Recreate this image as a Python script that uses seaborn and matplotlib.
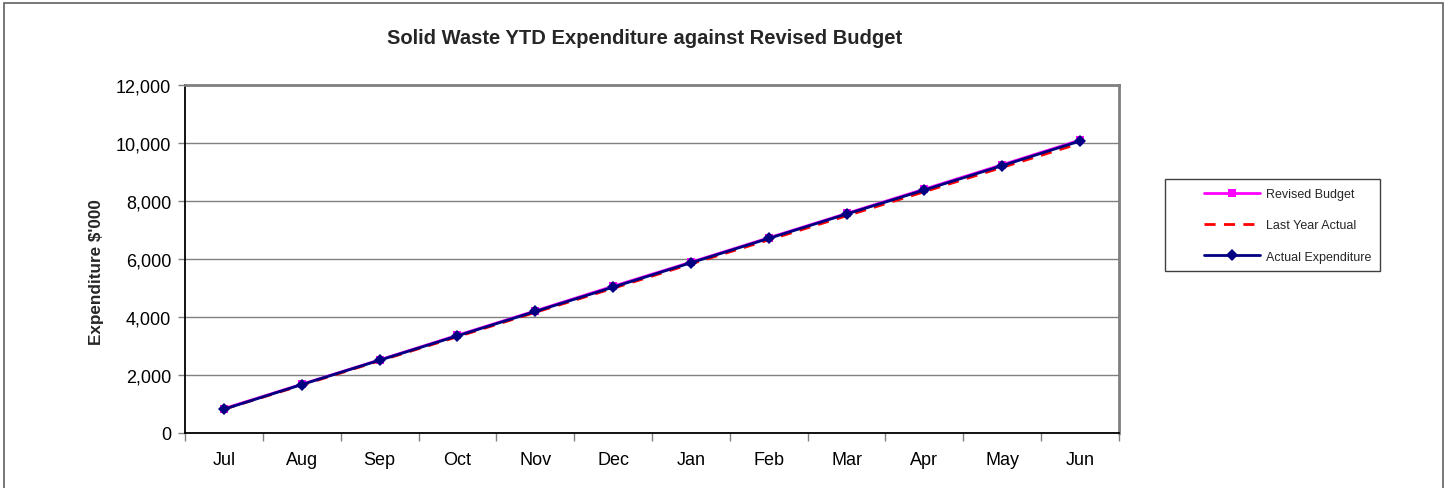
import matplotlib
matplotlib.use("Agg")
import matplotlib.pyplot as plt
from matplotlib.patches import Rectangle
from matplotlib.ticker import FuncFormatter, MultipleLocator, FixedLocator
import seaborn as sns
import pandas as pd
import numpy as np

months = ["Jul", "Aug", "Sep", "Oct", "Nov", "Dec", "Jan", "Feb", "Mar", "Apr", "May", "Jun"]
revised_budget = [840, 1680, 2520, 3370, 4210, 5060, 5890, 6730, 7570, 8410, 9250, 10100]
last_year_actual = [820, 1650, 2490, 3320, 4160, 4990, 5830, 6660, 7490, 8320, 9160, 9990]
actual_expenditure = [820, 1670, 2510, 3350, 4190, 5030, 5870, 6710, 7550, 8380, 9220, 10070]

sns.set_theme(style="white")
plt.rcParams["font.family"] = ["Liberation Sans", "DejaVu Sans"]

W, H = 1451, 489
fig = plt.figure(figsize=(W / 100, H / 100), dpi=100)
ax = fig.add_axes([185 / W, (H - 434) / H, (1119 - 185) / W, (434 - 86) / H])

df = pd.DataFrame({"month": months,
                   "Revised Budget": revised_budget,
                   "Last Year Actual": last_year_actual,
                   "Actual Expenditure": actual_expenditure})

sns.lineplot(data=df, x="month", y="Revised Budget", ax=ax, color="#FF00FF",
             linewidth=2, marker="s", markersize=6, markeredgewidth=0,
             label="Revised Budget", sort=False, zorder=3)
sns.lineplot(data=df, x="month", y="Last Year Actual", ax=ax, color="#FF0000",
             linewidth=2, dashes=(4, 3), label="Last Year Actual", sort=False, zorder=4)
sns.lineplot(data=df, x="month", y="Actual Expenditure", ax=ax, color="#000080",
             linewidth=2, marker="D", markersize=6, markeredgewidth=0,
             label="Actual Expenditure", sort=False, zorder=5)

ax.set_xlim(-0.5, len(months) - 0.5)
ax.set_ylim(0, 12000)
ax.yaxis.set_major_locator(MultipleLocator(2000))
ax.yaxis.set_major_formatter(FuncFormatter(lambda v, p: f"{int(v):,}"))
ax.grid(axis="y", color="#808080", linewidth=1)
ax.grid(axis="x", visible=False)
ax.set_axisbelow(True)

# category labels centred, tick marks on the category boundaries
ax.set_xticks(range(len(months)))
ax.set_xticklabels(months)
ax.xaxis.set_minor_locator(FixedLocator(np.arange(-0.5, len(months), 1.0)))
ax.tick_params(axis="x", which="major", length=0, pad=13, labelsize=13, colors="black")
ax.tick_params(axis="x", which="minor", length=6, width=1, color="#808080", direction="out", bottom=True)
ax.tick_params(axis="y", which="major", length=5, width=1, color="#808080", direction="out",
               left=True, pad=5, labelsize=13, labelcolor="black")

ax.set_xlabel("")
ax.set_ylabel("Expenditure $'000", fontsize=12.3, fontweight="bold")
ax.yaxis.set_label_coords((104 - 185) / 934, (434 - 272) / 348)

for side in ["left", "bottom"]:
    ax.spines[side].set_color("black")
    ax.spines[side].set_linewidth(1.3)
for side in ["top", "right"]:
    ax.spines[side].set_color("#808080")
    ax.spines[side].set_linewidth(2)

fig.text(644.5 / W, (H - 38) / H, "Solid Waste YTD Expenditure against Revised Budget",
         fontsize=14.5, fontweight="bold", ha="center", va="center")

# legend entries without frame; the box is drawn separately with wide left margin
leg = ax.legend(loc="upper left", bbox_to_anchor=(1204 / W, (H - 189) / H),
                bbox_transform=fig.transFigure, fontsize=9, frameon=False,
                handlelength=4.5, labelspacing=1.55, borderpad=0, handletextpad=0.5,
                borderaxespad=0)
fig.patches.append(Rectangle((1165 / W, (H - 272) / H), 215 / W, 92 / H,
                             transform=fig.transFigure, fill=False,
                             edgecolor="#404040", linewidth=1))

# outer chart border
fig.patches.append(Rectangle((4 / W, -0.02), (1443 - 4) / W, (H - 4) / H + 0.02,
                             transform=fig.transFigure, fill=False,
                             edgecolor="#606060", linewidth=1.2))

fig.savefig("out.png", dpi=100)
